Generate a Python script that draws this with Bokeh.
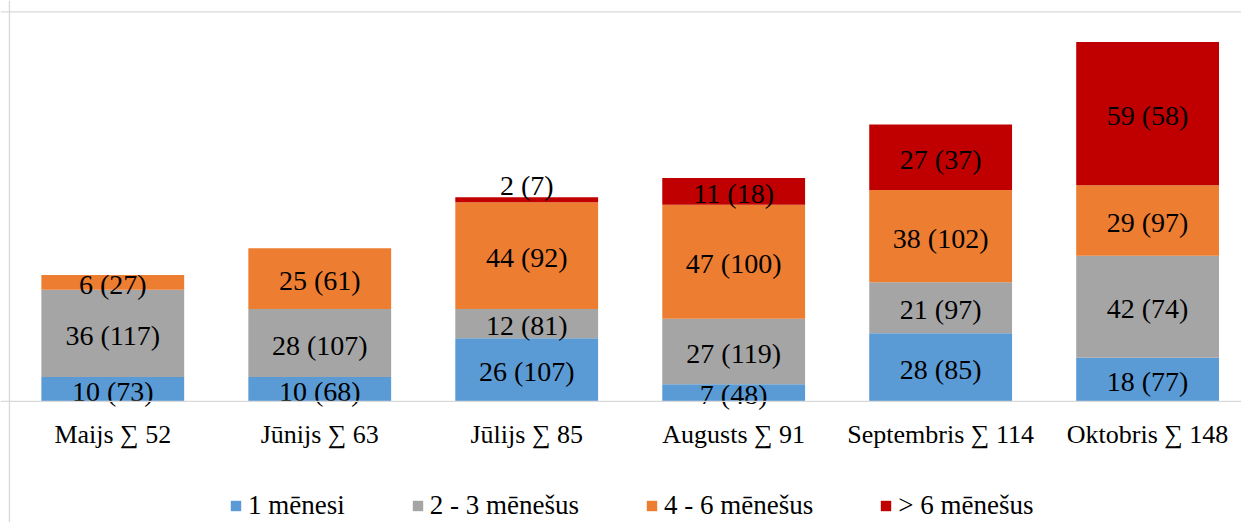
import numpy as np
from bokeh.plotting import figure
from bokeh.models import ColumnDataSource, Span
from bokeh.core.properties import value
from bokeh.embed import file_html
from bokeh.resources import INLINE

# ---- data ----
months = ["Maijs", "Jūnijs", "Jūlijs", "Augusts", "Septembris", "Oktobris"]
totals = [52, 63, 85, 91, 114, 148]
series_names = ["1 mēnesi", "2 - 3 mēnešus", "4 - 6 mēnešus", "> 6 mēnešus"]
m1 = [10, 10, 26, 7, 28, 18]
m1_prev = [73, 68, 107, 48, 85, 77]
m23 = [36, 28, 12, 27, 21, 42]
m23_prev = [117, 107, 81, 119, 97, 74]
m46 = [6, 25, 44, 47, 38, 29]
m46_prev = [27, 61, 92, 100, 102, 97]
m6 = [0, 0, 2, 11, 27, 59]
m6_prev = [0, 0, 7, 18, 37, 58]

colors = ["#5B9BD5", "#A5A5A5", "#ED7D31", "#C00000"]
FONT = "Liberation Serif"

# ---- layout geometry (pixels) ----
W, H = 1241, 522
SX, SY = W / 1249.0, H / 530.0
PX_X = 208.3 * SX          # pixels per category
PX_Y = 2.466 * SY          # pixels per unit
first_center = 113.0 * SX  # first category centre from figure left
baseline = 407.0 * SY      # zero line from figure top

x0 = -first_center / PX_X
x1 = x0 + W / PX_X
y1 = baseline / PX_Y
y0 = -(H - baseline) / PX_Y

p = figure(width=W, height=H, x_range=(x0, x1), y_range=(y0, y1),
           output_backend="svg", toolbar_location=None,
           x_axis_location=None, y_axis_location=None, min_border=0)
p.grid.visible = False
p.outline_line_color = None
p.background_fill_color = "white"
p.border_fill_color = "white"

keys = ["m1", "m23", "m46", "m6"]
source = ColumnDataSource(dict(x=list(range(len(months))), m1=m1, m23=m23, m46=m46, m6=m6))
p.vbar_stack(keys, x="x", width=0.69, color=colors, source=source,
             line_color=None, legend_label=series_names)

# chart border and baseline
border = "#d9d9d9"
p.add_layout(Span(location=0, dimension="width", line_color=border, line_width=1.3))
p.add_layout(Span(location=(baseline - 11.5 * SY) / PX_Y, dimension="width", line_color=border, line_width=1.3))
p.add_layout(Span(location=x0 + 9.0 * SX / PX_X, dimension="height", line_color=border, line_width=1.3))

# data labels
vals = [m1, m23, m46, m6]
prevs = [m1_prev, m23_prev, m46_prev, m6_prev]
lx, ly, lt, lo = [], [], [], []
for i in range(len(months)):
    bottom = 0
    for s in range(4):
        v = vals[s][i]
        if v > 0:
            lx.append(i)
            if v < 4:
                ly.append(bottom + v)
                lo.append(-12)
            else:
                ly.append(bottom + v / 2)
                lo.append(2)
            lt.append(f"{v} ({prevs[s][i]})")
        bottom += v
lab_src = ColumnDataSource(dict(x=lx, y=ly, text=lt, yo=lo))
p.text(x="x", y="y", text="text", y_offset="yo", source=lab_src,
       text_font=value(FONT), text_font_size="28px", text_color="black",
       text_align="center", text_baseline="middle")

# category labels
cat_src = ColumnDataSource(dict(x=list(range(len(months))), y=[0] * len(months),
                                text=[f"{m} ∑ {t}" for m, t in zip(months, totals)]))
p.text(x="x", y="y", text="text", source=cat_src, y_offset=33,
       text_font=value(FONT), text_font_size="26px", text_color="black",
       text_align="center", text_baseline="middle")

lg = p.legend[0]
lg.orientation = "horizontal"
lg.location = (229, 1)
lg.label_text_font = FONT
lg.label_text_font_size = "27px"
lg.label_text_color = "black"
lg.glyph_width = 13
lg.glyph_height = 13
lg.label_standoff = 6
lg.spacing = 66
lg.padding = 0
lg.margin = 0
lg.border_line_color = None
lg.background_fill_alpha = 0

open("out.html", "w").write(file_html(p, INLINE))
